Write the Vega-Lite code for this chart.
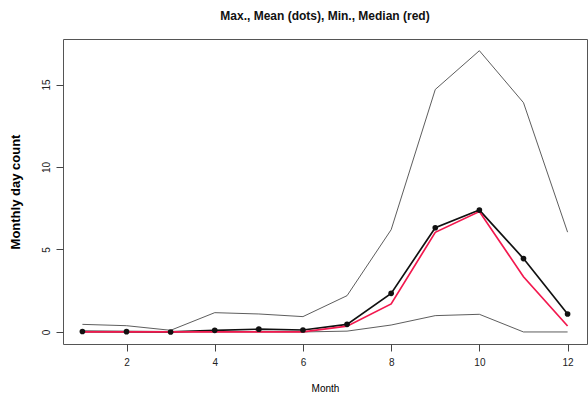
{
  "$schema": "https://vega.github.io/schema/vega-lite/v6.json",
  "autosize": "none",
  "width": 524,
  "height": 305,
  "padding": {"left": 63, "top": 39, "right": 1, "bottom": 59},
  "background": "white",
  "config": {
    "view": {"stroke": "#555555", "strokeWidth": 1},
    "font": "Liberation Sans",
    "axis": {"grid": false, "domain": false, "tickColor": "#444444", "tickSize": 7, "labelColor": "#222222", "labelFontSize": 10, "labelFont": "Liberation Sans", "titleFont": "Liberation Sans"}
  },
  "title": {"text": "Max., Mean (dots), Min., Median (red)", "fontSize": 12, "fontWeight": "bold", "font": "Liberation Sans", "color": "#111111", "offset": 16, "anchor": "middle"},
  "data": {"values": [
    {"month": 1, "stat": "Max", "value": 0.46},
    {"month": 2, "stat": "Max", "value": 0.38},
    {"month": 3, "stat": "Max", "value": 0.1},
    {"month": 4, "stat": "Max", "value": 1.17},
    {"month": 5, "stat": "Max", "value": 1.09},
    {"month": 6, "stat": "Max", "value": 0.93},
    {"month": 7, "stat": "Max", "value": 2.2},
    {"month": 8, "stat": "Max", "value": 6.2},
    {"month": 9, "stat": "Max", "value": 14.7},
    {"month": 10, "stat": "Max", "value": 17.05},
    {"month": 11, "stat": "Max", "value": 13.9},
    {"month": 12, "stat": "Max", "value": 6.05},
    {"month": 1, "stat": "Mean", "value": 0.03},
    {"month": 2, "stat": "Mean", "value": 0.02},
    {"month": 3, "stat": "Mean", "value": 0.0},
    {"month": 4, "stat": "Mean", "value": 0.1},
    {"month": 5, "stat": "Mean", "value": 0.17},
    {"month": 6, "stat": "Mean", "value": 0.12},
    {"month": 7, "stat": "Mean", "value": 0.46},
    {"month": 8, "stat": "Mean", "value": 2.34},
    {"month": 9, "stat": "Mean", "value": 6.32},
    {"month": 10, "stat": "Mean", "value": 7.39},
    {"month": 11, "stat": "Mean", "value": 4.45},
    {"month": 12, "stat": "Mean", "value": 1.09},
    {"month": 1, "stat": "Min", "value": 0},
    {"month": 2, "stat": "Min", "value": 0},
    {"month": 3, "stat": "Min", "value": 0},
    {"month": 4, "stat": "Min", "value": 0},
    {"month": 5, "stat": "Min", "value": 0},
    {"month": 6, "stat": "Min", "value": 0},
    {"month": 7, "stat": "Min", "value": 0.05},
    {"month": 8, "stat": "Min", "value": 0.42},
    {"month": 9, "stat": "Min", "value": 0.99},
    {"month": 10, "stat": "Min", "value": 1.07},
    {"month": 11, "stat": "Min", "value": 0},
    {"month": 12, "stat": "Min", "value": 0},
    {"month": 1, "stat": "Median", "value": 0},
    {"month": 2, "stat": "Median", "value": 0},
    {"month": 3, "stat": "Median", "value": 0},
    {"month": 4, "stat": "Median", "value": 0},
    {"month": 5, "stat": "Median", "value": 0},
    {"month": 6, "stat": "Median", "value": 0},
    {"month": 7, "stat": "Median", "value": 0.35},
    {"month": 8, "stat": "Median", "value": 1.7},
    {"month": 9, "stat": "Median", "value": 6.04},
    {"month": 10, "stat": "Median", "value": 7.3},
    {"month": 11, "stat": "Median", "value": 3.35},
    {"month": 12, "stat": "Median", "value": 0.36}
  ]},
  "encoding": {
    "x": {"field": "month", "type": "quantitative", "scale": {"domain": [0.56, 12.44], "nice": false, "zero": false},
      "axis": {"values": [2, 4, 6, 8, 10, 12], "title": "Month", "titleFontSize": 10, "titleFontWeight": "normal", "titlePadding": 16, "labelPadding": 6, "labelFlush": false}},
    "y": {"field": "value", "type": "quantitative", "scale": {"domain": [-0.73, 17.76], "nice": false, "zero": false},
      "axis": {"values": [0, 5, 10, 15], "title": "Monthly day count", "titleFontSize": 13, "titleFontWeight": "bold", "titlePadding": 19, "labelAngle": -90, "labelAlign": "center", "labelBaseline": "bottom", "labelPadding": 5, "labelFlush": false}}
  },
  "layer": [
    {"transform": [{"filter": "datum.stat === 'Max'"}], "mark": {"type": "line", "color": "#333333", "strokeWidth": 0.8}},
    {"transform": [{"filter": "datum.stat === 'Min'"}], "mark": {"type": "line", "color": "#333333", "strokeWidth": 0.8}},
    {"transform": [{"filter": "datum.stat === 'Mean'"}], "mark": {"type": "line", "color": "#111111", "strokeWidth": 1.7}},
    {"transform": [{"filter": "datum.stat === 'Median'"}], "mark": {"type": "line", "color": "#f2184e", "strokeWidth": 1.7}},
    {"transform": [{"filter": "datum.stat === 'Mean'"}], "mark": {"type": "point", "filled": true, "color": "#111111", "size": 32, "opacity": 1}}
  ]
}
